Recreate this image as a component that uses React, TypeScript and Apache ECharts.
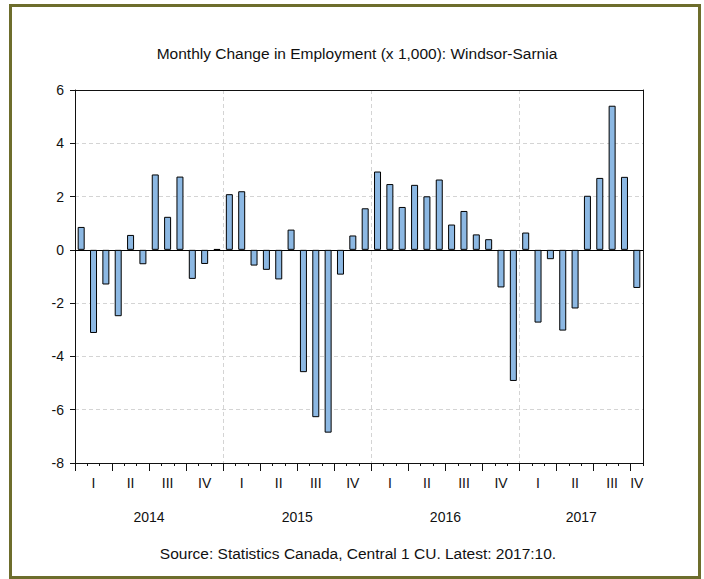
import React, { useEffect, useRef } from "react";
import * as echarts from "echarts";

const months: string[] = [];
const years = ["2014", "2015", "2016", "2017"];
const monthsPerYear = [12, 12, 12, 10];
years.forEach((y, yi) => {
  for (let m = 1; m <= monthsPerYear[yi]; m++) months.push(`${y}:${String(m).padStart(2, "0")}`);
});

const values = [
  0.86, -3.12, -1.3, -2.49, 0.56, -0.54, 2.83, 1.24, 2.75, -1.09, -0.53, 0.03,
  2.09, 2.2, -0.59, -0.75, -1.11, 0.76, -4.59, -6.28, -6.86, -0.93, 0.54, 1.56,
  2.94, 2.47, 1.61, 2.44, 2.01, 2.64, 0.95, 1.46, 0.58, 0.4, -1.41, -4.92,
  0.65, -2.73, -0.35, -3.03, -2.2, 2.03, 2.7, 5.41, 2.74, -1.43,
];

const quarterLabels = ["I", "II", "III", "IV"];

const titleText = "Monthly Change in Employment (x 1,000): Windsor-Sarnia";
const sourceText = "Source: Statistics Canada, Central 1 CU. Latest: 2017:10.";

export default function App() {
  const ref = useRef<HTMLDivElement>(null);
  useEffect(() => {
    if (!ref.current) return;
    const chart = echarts.init(ref.current, undefined, { renderer: "svg" });

    const boundaries: string[] = [];
    for (let i = 0; i <= months.length; i++) boundaries.push(String(i));
    const yearLabelAt: Record<number, string> = {};
    let start = 0;
    years.forEach((y, yi) => {
      yearLabelAt[start + monthsPerYear[yi] / 2] = y;
      start += monthsPerYear[yi];
    });

    const font = "'Liberation Sans', Arial, sans-serif";
    const gridLine = { color: "#d4d4d4", type: [4, 3] as number[], width: 1 };

    chart.setOption({
      animation: false,
      backgroundColor: "#ffffff",
      grid: { left: 75, top: 90, right: 61, bottom: 116, show: false },
      xAxis: [
        {
          type: "category",
          data: months,
          boundaryGap: true,
          position: "bottom",
          axisLine: { show: true, onZero: false, lineStyle: { color: "#111", width: 1 } },
          axisTick: { show: true, interval: 0, length: 3, lineStyle: { color: "#111" } },
          axisLabel: {
            interval: 0,
            margin: 13,
            fontSize: 14,
            color: "#111",
            fontFamily: font,
            formatter: (_v: string, idx: number) => {
              const m = idx % 12;
              if (m % 3 === 1 || idx === months.length - 1) return quarterLabels[Math.floor(m / 3)];
              return "";
            },
          },
          splitLine: {
            show: true,
            interval: (idx: number) => idx % 12 === 0 && idx > 0,
            lineStyle: gridLine,
          },
        },
        {
          type: "category",
          data: boundaries,
          boundaryGap: false,
          position: "bottom",
          axisLine: { show: false, onZero: false },
          axisTick: {
            show: true,
            interval: (idx: number) => idx % 3 === 0,
            length: 8,
            lineStyle: { color: "#111" },
          },
          axisLabel: {
            interval: 0,
            margin: 47,
            fontSize: 14,
            color: "#111",
            fontFamily: font,
            formatter: (_v: string, idx: number) => yearLabelAt[idx] ?? "",
          },
          splitLine: { show: false },
        },
        {
          type: "category",
          data: months,
          position: "top",
          axisLine: { show: true, onZero: false, lineStyle: { color: "#111", width: 1 } },
          axisTick: { show: false },
          axisLabel: { show: false },
          splitLine: { show: false },
        },
      ],
      yAxis: [
        {
          type: "value",
          min: -8,
          max: 6,
          interval: 2,
          axisLine: { show: true, lineStyle: { color: "#111" } },
          axisTick: { show: true, length: 5, lineStyle: { color: "#111" } },
          axisLabel: { fontSize: 14, color: "#111", margin: 11, fontFamily: font },
          splitLine: { show: true, showMaxLine: false, showMinLine: false, lineStyle: gridLine },
        },
        {
          type: "value",
          min: -8,
          max: 6,
          interval: 2,
          position: "right",
          axisLine: { show: true, lineStyle: { color: "#111" } },
          axisTick: { show: false },
          axisLabel: { show: false },
          splitLine: { show: false },
        },
      ],
      series: [
        {
          type: "bar",
          data: values,
          xAxisIndex: 0,
          yAxisIndex: 0,
          barWidth: 7,
          itemStyle: { color: "#8cb8e3", borderColor: "#000", borderWidth: 1 },
          markLine: {
            silent: true,
            symbol: "none",
            label: { show: false },
            lineStyle: { color: "#000", type: "solid", width: 1 },
            data: [{ yAxis: 0 }],
            z: 1,
          },
        },
      ],
      graphic: [
        {
          type: "rect",
          shape: { x: 10.5, y: 5.5, width: 689, height: 572 },
          style: { fill: "none", stroke: "#6d6d2c", lineWidth: 3 },
          silent: true,
        },
        {
          type: "text",
          x: 357,
          y: 53,
          style: {
            text: titleText,
            fontSize: 15.5,
            fontFamily: font,
            fill: "#111",
            textAlign: "center",
            textVerticalAlign: "middle",
          },
        },
        {
          type: "text",
          x: 358,
          y: 553,
          style: {
            text: sourceText,
            fontSize: 15.5,
            fontFamily: font,
            fill: "#111",
            textAlign: "center",
            textVerticalAlign: "middle",
          },
        },
      ],
    });
    return () => chart.dispose();
  }, []);
  return (
    <div
      ref={ref}
      style={{ position: "absolute", left: 0, top: 0, width: 704, height: 579 }}
    />
  );
}
